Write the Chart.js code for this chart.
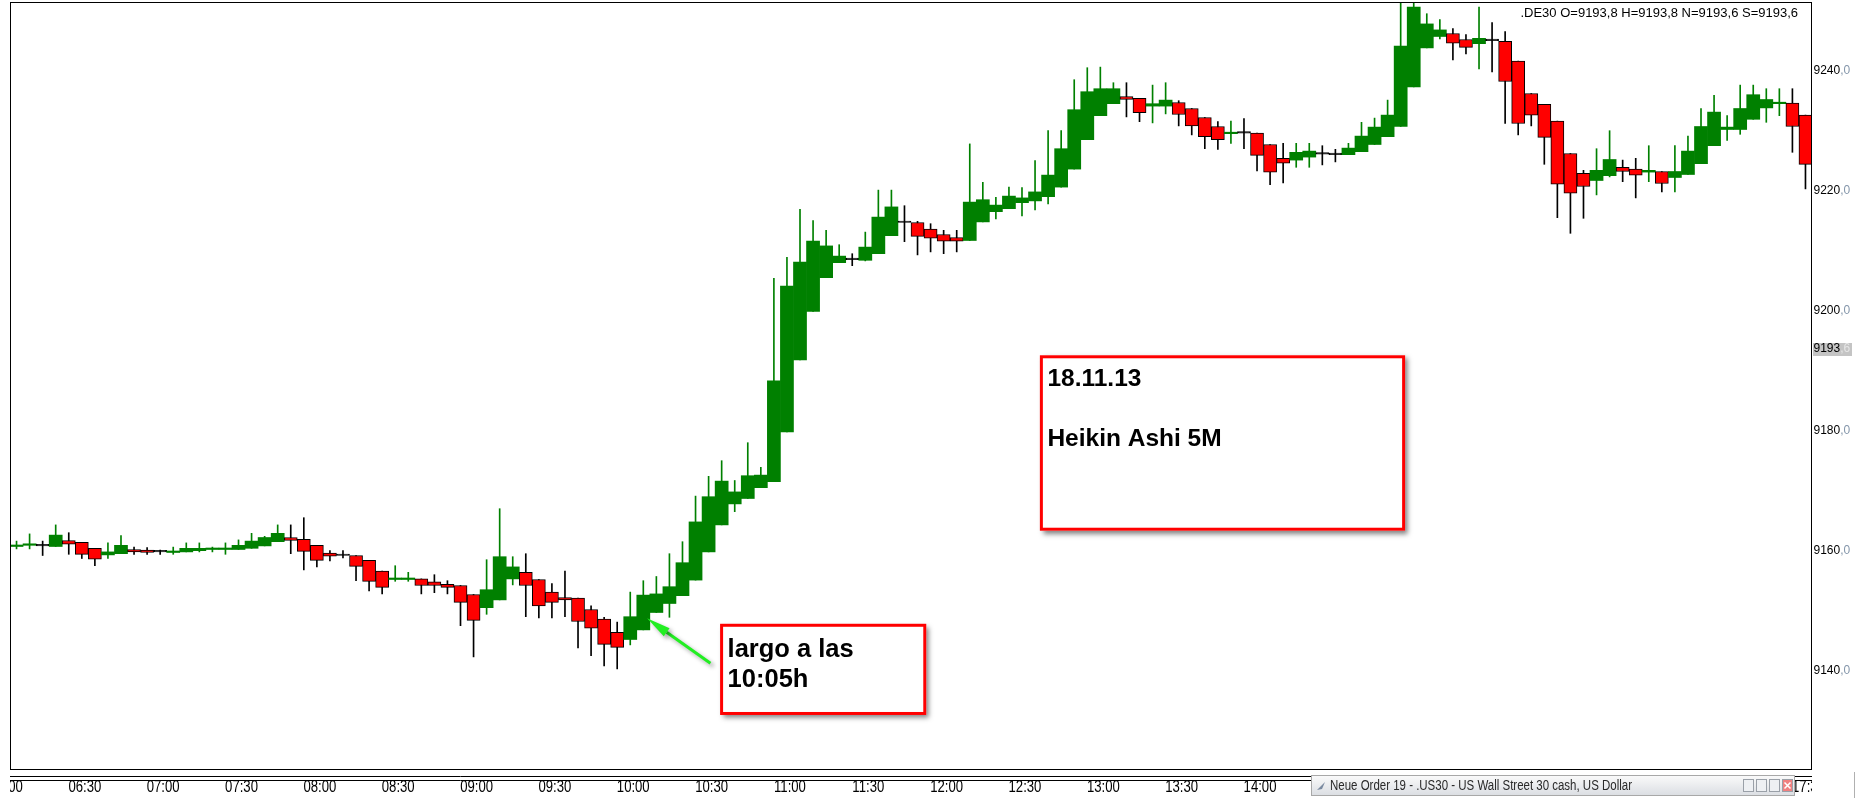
<!DOCTYPE html>
<html>
<head>
<meta charset="utf-8">
<script src="https://cdn.jsdelivr.net/npm/chart.js@4.4.0/dist/chart.umd.min.js"></script>
<style>
  html, body { margin: 0; padding: 0; background: #fff; overflow: hidden; }
</style>
</head>
<body>
<canvas id="chart" width="1856" height="798"></canvas>
<script>
// 5 minute Heikin Ashi candles, .DE30, 18.11.13
const times = [
  "06:05","06:10","06:15","06:20","06:25","06:30","06:35","06:40","06:45","06:50","06:55",
  "07:00","07:05","07:10","07:15","07:20","07:25","07:30","07:35","07:40","07:45","07:50","07:55",
  "08:00","08:05","08:10","08:15","08:20","08:25","08:30","08:35","08:40","08:45","08:50","08:55",
  "09:00","09:05","09:10","09:15","09:20","09:25","09:30","09:35","09:40","09:45","09:50","09:55",
  "10:00","10:05","10:10","10:15","10:20","10:25","10:30","10:35","10:40","10:45","10:50","10:55",
  "11:00","11:05","11:10","11:15","11:20","11:25","11:30","11:35","11:40","11:45","11:50","11:55",
  "12:00","12:05","12:10","12:15","12:20","12:25","12:30","12:35","12:40","12:45","12:50","12:55",
  "13:00","13:05","13:10","13:15","13:20","13:25","13:30","13:35","13:40","13:45","13:50","13:55",
  "14:00","14:05","14:10","14:15","14:20","14:25","14:30","14:35","14:40","14:45","14:50","14:55",
  "15:00","15:05","15:10","15:15","15:20","15:25","15:30","15:35","15:40","15:45","15:50","15:55",
  "16:00","16:05","16:10","16:15","16:20","16:25","16:30","16:35","16:40","16:45","16:50","16:55",
  "17:00","17:05","17:10","17:15","17:20","17:25","17:30"
];

const open = [
  9160.7,9160.9,9160.8,9160.7,9161.7,9161.4,9160.4,9159.3,9159.5,9160.2,9160.1,
  9159.8,9159.7,9159.8,9160.0,9160.2,9160.2,9160.2,9160.4,9160.8,9161.5,9162.2,9161.9,
  9160.9,9159.6,9159.2,9159.2,9158.4,9156.6,9155.2,9155.2,9155.3,9154.8,9154.4,9154.2,
  9152.7,9150.5,9151.8,9155.3,9156.4,9155.2,9153.1,9152.2,9152.1,9150.2,9148.6,9146.4,
  9145.2,9146.8,9149.7,9151.2,9152.5,9155.1,9159.8,9164.3,9167.8,9168.7,9170.5,9171.5,
  9179.8,9191.8,9199.9,9205.5,9208.0,9208.5,9208.4,9209.5,9212.5,9214.7,9214.7,9213.6,
  9212.7,9212.2,9211.7,9214.8,9216.5,9217.0,9218.0,9218.3,9219.0,9220.6,9223.6,9228.5,
  9232.5,9234.5,9235.7,9235.4,9234.1,9234.1,9234.7,9233.7,9232.2,9230.7,9229.5,9229.6,
  9229.6,9227.7,9225.4,9225.1,9225.6,9226.1,9226.0,9226.0,9226.5,9227.7,9229.0,9230.7,
  9237.3,9243.8,9245.7,9246.2,9245.2,9244.5,9245.0,9244.9,9241.6,9236.2,9234.4,9231.6,
  9226.2,9222.9,9221.7,9222.5,9223.9,9223.6,9223.1,9223.2,9222.2,9222.7,9224.5,9227.5,
  9230.2,9230.2,9231.9,9233.8,9234.5,9234.6,9232.6
];
const high = [
  9161.6,9162.8,9161.6,9164.3,9163.0,9161.4,9160.4,9161.3,9162.5,9160.6,9160.5,
  9160.1,9160.6,9161.3,9161.3,9160.6,9161.3,9161.8,9162.9,9162.4,9164.3,9164.3,9165.5,
  9160.9,9160.0,9160.0,9159.2,9158.4,9156.6,9157.5,9156.4,9155.3,9156.0,9155.0,9154.2,
  9152.7,9158.5,9167.0,9159.0,9159.5,9155.2,9154.5,9156.6,9152.1,9150.8,9148.9,9148.1,
  9153.1,9155.0,9155.7,9159.5,9161.5,9169.1,9172.4,9175.0,9171.7,9178.0,9173.9,9205.4,
  9208.9,9216.9,9215.0,9213.4,9211.0,9209.5,9213.1,9220.1,9220.1,9217.5,9214.9,9214.5,
  9213.4,9213.4,9227.8,9221.4,9218.9,9220.6,9220.5,9225.0,9230.0,9230.0,9238.5,9240.5,
  9240.6,9238.0,9238.0,9235.4,9237.6,9238.0,9235.0,9233.7,9232.2,9231.5,9231.6,9232.0,
  9229.6,9227.7,9227.9,9227.9,9227.9,9227.5,9226.9,9227.9,9231.4,9232.1,9235.1,9253.0,
  9253.0,9249.5,9248.5,9247.0,9246.0,9250.6,9248.0,9246.5,9241.6,9236.2,9234.4,9231.6,
  9226.2,9223.4,9227.0,9230.0,9225.1,9225.4,9227.5,9223.2,9227.5,9229.1,9233.7,9235.9,
  9232.5,9237.6,9237.6,9237.0,9237.0,9237.0,9232.6
];
const low = [
  9160.3,9160.3,9159.2,9160.7,9159.4,9158.7,9157.5,9158.7,9159.5,9159.4,9159.4,
  9159.4,9159.4,9159.8,9159.8,9159.8,9159.4,9160.2,9160.4,9160.8,9161.5,9159.5,9156.8,
  9157.3,9158.3,9158.8,9155.0,9153.3,9152.8,9154.9,9154.9,9152.8,9153.0,9152.8,9147.5,
  9142.3,9149.4,9151.8,9154.3,9149.0,9148.8,9148.8,9149.0,9143.8,9142.5,9140.8,9140.3,
  9144.3,9146.8,9149.7,9148.9,9152.5,9155.1,9159.8,9164.3,9166.5,9168.7,9170.5,9171.5,
  9179.8,9191.8,9199.9,9205.5,9208.0,9207.5,9208.3,9209.5,9212.5,9211.5,9209.3,9209.8,
  9209.5,9209.8,9211.7,9214.8,9215.3,9217.0,9215.8,9216.8,9217.8,9220.6,9223.6,9228.5,
  9232.5,9234.5,9232.3,9231.5,9231.3,9232.8,9230.8,9229.3,9227.0,9226.9,9227.9,9227.0,
  9223.3,9221.0,9221.3,9223.9,9223.9,9224.3,9224.8,9226.0,9226.5,9227.7,9229.0,9230.7,
  9237.3,9243.8,9245.3,9241.8,9242.8,9240.3,9239.8,9231.2,9229.3,9230.8,9224.4,9215.5,
  9212.9,9215.4,9219.3,9222.3,9221.5,9218.8,9221.5,9219.8,9219.8,9222.7,9224.5,9227.5,
  9228.4,9229.4,9231.9,9231.4,9232.5,9226.4,9220.3
];
const close = [
  9160.9,9161.1,9160.8,9162.6,9161.1,9159.4,9158.6,9159.8,9160.9,9159.8,9159.7,
  9159.8,9159.9,9160.4,9160.4,9160.3,9160.3,9160.9,9161.6,9162.2,9162.9,9161.7,9159.9,
  9158.4,9159.1,9159.2,9157.4,9154.9,9153.9,9155.4,9155.4,9154.2,9154.2,9153.9,9151.4,
  9148.4,9153.5,9159.0,9157.3,9154.2,9150.8,9151.4,9151.8,9148.2,9147.1,9144.4,9143.9,
  9149.0,9152.6,9152.8,9154.0,9158.0,9164.8,9169.0,9171.6,9169.8,9172.5,9172.6,9188.3,
  9204.1,9208.1,9211.6,9210.8,9209.1,9208.5,9210.6,9215.6,9217.3,9214.7,9212.4,9212.1,
  9211.6,9211.6,9218.1,9218.5,9217.6,9219.1,9218.8,9219.8,9222.6,9227.0,9233.5,9236.5,
  9237.0,9237.0,9235.2,9233.0,9234.5,9235.1,9232.7,9230.8,9229.0,9228.5,9229.7,9229.6,
  9225.9,9223.1,9224.6,9226.4,9226.6,9226.1,9226.0,9227.1,9229.1,9230.6,9232.6,9244.1,
  9250.6,9247.8,9246.8,9244.6,9243.9,9245.4,9245.0,9238.2,9231.2,9232.6,9228.9,9221.1,
  9219.6,9220.7,9223.4,9225.2,9223.2,9222.6,9223.4,9221.2,9223.2,9226.6,9230.7,9233.1,
  9230.6,9233.7,9236.0,9235.2,9234.7,9230.7,9224.4
];

const xTickLabels = ["06:00","06:30","07:00","07:30","08:00","08:30","09:00","09:30","10:00",
  "10:30","11:00","11:30","12:00","12:30","13:00","13:30","14:00","14:30","15:00","15:30",
  "16:00","16:30","17:00","17:30"];
const yTickValues = [9140, 9160, 9180, 9200, 9220, 9240];
const lastPrice = 9193.6;
const headerText = ".DE30 O=9193,8 H=9193,8 N=9193,6 S=9193,6";
const taskbarText = "Neue Order 19 - .US30 - US Wall Street 30 cash, US Dollar";

// annotations in data units (candle index, price)
const notes = [
  { x0: 78.37, x1: 106.34, top: 9192.57, bottom: 9163.33, lines: ["18.11.13", "", "Heikin Ashi 5M"] },
  { x0: 53.88, x1: 69.67, top: 9147.82, bottom: 9132.62, lines: ["largo a las", "10:05h"] }
];
const arrow = { fromX: 53.14, fromY: 9141.23, toX: 48.29, toY: 9148.73 };

const GREEN = "#008000", RED = "#ff0000", BLACK = "#000000";
const bodyColor = open.map((o, i) => close[i] > o ? GREEN : close[i] < o ? RED : BLACK);
const wickColor = open.map((o, i) => close[i] > o ? GREEN : BLACK);

const FONT = '"Liberation Sans", Arial, sans-serif';

function splitDecimal(v) {
  const s = v.toFixed(1).replace(".", ",");
  const i = s.indexOf(",");
  return [s.slice(0, i), s.slice(i)];
}

const overlay = {
  id: "overlay",
  afterDraw(chart) {
    const ctx = chart.ctx;
    const a = chart.chartArea;
    const xs = chart.scales.x, ys = chart.scales.y;
    const W = chart.width;
    ctx.save();

    // plot frame
    ctx.strokeStyle = "#000";
    ctx.lineWidth = 1;
    ctx.strokeRect(Math.round(a.left) + 0.5, Math.round(a.top) + 0.5,
      Math.round(a.right - a.left) - 1, Math.round(a.bottom - a.top) - 1);

    // double rule above time axis
    ctx.beginPath();
    ctx.moveTo(a.left, a.bottom + 6.5); ctx.lineTo(a.right, a.bottom + 6.5);
    ctx.moveTo(a.left, a.bottom + 10.5); ctx.lineTo(a.right, a.bottom + 10.5);
    ctx.stroke();

    // time labels (narrow font), clipped to the plot width
    ctx.save();
    ctx.beginPath();
    ctx.rect(a.left, a.bottom + 11, a.right - a.left, chart.height - a.bottom);
    ctx.clip();
    ctx.fillStyle = "#000";
    ctx.font = "16px " + FONT;
    ctx.textAlign = "center";
    ctx.textBaseline = "middle";
    xTickLabels.forEach(lbl => {
      let idx = times.indexOf(lbl);
      if (idx < 0) idx = -1;
      const px = xs.getPixelForValue(idx) + 3;
      ctx.save();
      ctx.translate(px, a.bottom + 18);
      ctx.scale(0.82, 1);
      ctx.fillText(lbl, 0, 0);
      ctx.restore();
    });
    ctx.restore();

    // price labels
    ctx.font = "12px " + FONT;
    ctx.textAlign = "left";
    ctx.textBaseline = "middle";
    const lx = a.right + 1.5;
    yTickValues.forEach(v => {
      const py = ys.getPixelForValue(v);
      const [ip, dp] = splitDecimal(v);
      ctx.fillStyle = "#000";
      ctx.fillText(ip, lx, py);
      ctx.fillStyle = "#8496aa";
      ctx.fillText(dp, lx + ctx.measureText(ip).width, py);
    });

    // last price marker
    {
      const py = ys.getPixelForValue(lastPrice);
      const [ip, dp] = splitDecimal(lastPrice);
      ctx.fillStyle = "#c4c4c4";
      ctx.fillRect(a.right + 1, Math.round(py) - 6, 39, 13);
      ctx.fillStyle = "#000";
      ctx.fillText(ip, lx, py);
      ctx.fillStyle = "#e6e6e6";
      ctx.fillText(dp, lx + ctx.measureText(ip).width, py);
    }

    // header
    ctx.font = "13px " + FONT;
    ctx.fillStyle = "#000";
    ctx.textAlign = "right";
    ctx.textBaseline = "alphabetic";
    ctx.fillText(headerText, a.right - 14, a.top + 15);

    // arrow
    {
      const x1 = xs.getPixelForValue(arrow.fromX), y1 = ys.getPixelForValue(arrow.fromY);
      const x2 = xs.getPixelForValue(arrow.toX), y2 = ys.getPixelForValue(arrow.toY);
      const ang = Math.atan2(y2 - y1, x2 - x1);
      const hl = 24, hw = 5;
      const bx = x2 - Math.cos(ang) * hl, by = y2 - Math.sin(ang) * hl;
      ctx.save();
      ctx.shadowColor = "rgba(0,0,0,0.35)";
      ctx.shadowBlur = 4;
      ctx.shadowOffsetX = 3;
      ctx.shadowOffsetY = 3;
      ctx.strokeStyle = "#22ee22";
      ctx.fillStyle = "#22ee22";
      ctx.lineWidth = 3;
      ctx.beginPath();
      ctx.moveTo(x1, y1);
      ctx.lineTo(bx, by);
      ctx.stroke();
      ctx.beginPath();
      ctx.moveTo(x2, y2);
      ctx.lineTo(bx - Math.sin(ang) * hw, by + Math.cos(ang) * hw);
      ctx.lineTo(bx + Math.sin(ang) * hw, by - Math.cos(ang) * hw);
      ctx.closePath();
      ctx.fill();
      ctx.restore();
    }

    // note boxes
    notes.forEach((n, k) => {
      const l = xs.getPixelForValue(n.x0), r = xs.getPixelForValue(n.x1);
      const t = ys.getPixelForValue(n.top), b = ys.getPixelForValue(n.bottom);
      ctx.save();
      ctx.shadowColor = "rgba(0,0,0,0.5)";
      ctx.shadowBlur = 5;
      ctx.shadowOffsetX = 3;
      ctx.shadowOffsetY = 3;
      ctx.fillStyle = "#fff";
      ctx.fillRect(l, t, r - l, b - t);
      ctx.restore();
      ctx.strokeStyle = "#ff0000";
      ctx.lineWidth = 3;
      ctx.strokeRect(l + 1.5, t + 1.5, r - l - 3, b - t - 3);
      ctx.fillStyle = "#000";
      ctx.textAlign = "left";
      ctx.textBaseline = "alphabetic";
      if (k === 0) {
        ctx.font = "bold 24.5px " + FONT;
        n.lines.forEach((s, j) => ctx.fillText(s, l + 7.5, t + 30.5 + j * 30));
      } else {
        ctx.font = "bold 25.5px " + FONT;
        n.lines.forEach((s, j) => ctx.fillText(s, l + 7.5, t + 33 + j * 30));
      }
    });

    // minimised order window at the bottom
    {
      const bx = 1311, by = a.bottom + 5, bw = 484, bh = 21;
      const g = ctx.createLinearGradient(0, by, 0, by + bh);
      g.addColorStop(0, "#fbfbfb");
      g.addColorStop(1, "#dadde2");
      ctx.fillStyle = g;
      ctx.fillRect(bx, by, bw, bh);
      ctx.strokeStyle = "#a8a8a8";
      ctx.lineWidth = 1;
      ctx.strokeRect(bx + 0.5, by + 0.5, bw - 1, bh - 1);
      ctx.fillStyle = "#7a8aa0";
      ctx.beginPath();
      ctx.moveTo(bx + 6, by + 15); ctx.lineTo(bx + 14, by + 7); ctx.lineTo(bx + 11, by + 14);
      ctx.closePath(); ctx.fill();
      ctx.save();
      ctx.fillStyle = "#2a2a2a";
      ctx.font = "14px " + FONT;
      ctx.textBaseline = "middle";
      ctx.textAlign = "left";
      ctx.translate(bx + 19, by + 11);
      ctx.scale(0.82, 1);
      ctx.fillText(taskbarText, 0, 0);
      ctx.restore();
      const btnX = [1743, 1756, 1769, 1782];
      btnX.forEach((x, i) => {
        ctx.fillStyle = i === 3 ? "#f08080" : "#eef0f3";
        ctx.fillRect(x, by + 4, 11, 13);
        ctx.strokeStyle = "#9aa0a8";
        ctx.strokeRect(x + 0.5, by + 4.5, 10, 12);
      });
      ctx.strokeStyle = "#fff";
      ctx.lineWidth = 1.5;
      ctx.beginPath();
      ctx.moveTo(1784.5, by + 7.5); ctx.lineTo(1790.5, by + 13.5);
      ctx.moveTo(1790.5, by + 7.5); ctx.lineTo(1784.5, by + 13.5);
      ctx.stroke();
      ctx.lineWidth = 1;
      ctx.strokeStyle = "#b0b0b0";
      ctx.beginPath();
      ctx.moveTo(W - 1.5, a.bottom + 2); ctx.lineTo(W - 1.5, chart.height);
      ctx.stroke();
    }
    ctx.restore();
  }
};

const ctx = document.getElementById("chart").getContext("2d");
new Chart(ctx, {
  type: "bar",
  data: {
    labels: times,
    datasets: [
      {
        label: "body",
        data: open.map((o, i) => [o, close[i]]),
        backgroundColor: bodyColor,
        borderColor: BLACK,
        borderWidth: bodyColor.map(c => c === GREEN ? 0 : 1),
        borderSkipped: false,
        barPercentage: 1,
        categoryPercentage: 1,
        minBarLength: 1.5,
        grouped: false,
        order: 0
      },
      {
        label: "wick",
        data: low.map((l, i) => [l, high[i]]),
        backgroundColor: wickColor,
        borderWidth: 0,
        barThickness: 1,
        grouped: false,
        order: 1
      }
    ]
  },
  options: {
    responsive: false,
    animation: false,
    devicePixelRatio: 1,
    layout: { padding: { left: 10, top: 2, right: 0, bottom: 0 } },
    plugins: { legend: { display: false }, tooltip: { enabled: false } },
    scales: {
      x: {
        type: "category",
        offset: true,
        grid: { display: false },
        border: { display: false },
        ticks: { display: false },
        afterFit: s => { s.height = 28; }
      },
      y: {
        type: "linear",
        position: "right",
        min: 9123.45,
        max: 9251.45,
        grid: { display: false },
        border: { display: false },
        ticks: { display: false },
        afterFit: s => { s.width = 44; }
      }
    }
  },
  plugins: [overlay]
});
</script>
</body>
</html>
